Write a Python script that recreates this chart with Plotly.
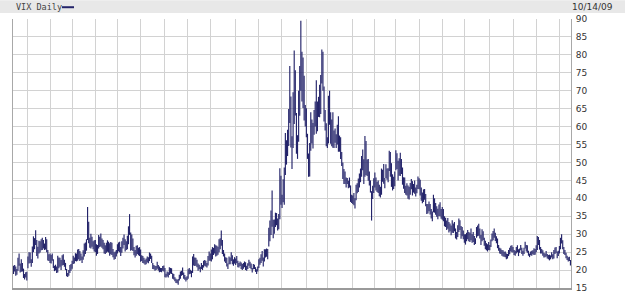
import pandas as pd
import plotly.graph_objects as go

# ---- data: VIX daily low / high, 15 Oct 2007 -> 14 Oct 2009 (one line per month) ----
holidays = ["2007-11-22", "2007-12-25", "2008-01-01", "2008-01-21", "2008-02-18", "2008-03-21",
            "2008-05-26", "2008-07-04", "2008-09-01", "2008-11-27", "2008-12-25", "2009-01-01",
            "2009-01-19", "2009-02-16", "2009-04-10", "2009-05-25", "2009-07-03", "2009-09-07"]
start_date = "2007-10-15"
end_date = "2009-10-14"
title_text = "VIX Daily"
date_label = "10/14/09"
y_ticks = [15, 20, 25, 30, 35, 40, 45, 50, 55, 60, 65, 70, 75, 80, 85, 90]

low = [
    18.9, 19.6, 18.4, 18.7, 19.8, 21.2, 19.3, 19.5, 19.6, 17.8, 17.4, 17.9, 17.1,
    20.5, 21.8, 22.0, 20.9, 22.0, 25.0, 25.8, 27.0, 23.9, 23.2, 24.6, 24.9, 25.5, 25.6, 26.0, 25.6, 25.7, 25.0, 22.7, 22.5, 22.0,
    21.8, 22.6, 20.6, 19.7, 19.9, 19.2, 19.3, 20.5, 20.9, 20.0, 21.3, 21.4, 20.9, 20.0, 18.3, 18.1, 18.4, 19.2, 19.8, 20.4,
    21.7, 21.8, 22.5, 22.4, 22.6, 23.0, 22.5, 22.8, 22.0, 22.9, 23.8, 24.5, 25.4, 28.4, 27.5, 26.2, 26.0, 26.5, 25.8, 25.2, 25.0,
    24.0, 24.5, 26.0, 26.4, 26.6, 26.2, 25.8, 24.6, 24.5, 24.8, 25.1, 24.9, 24.0, 24.4, 24.2, 23.6, 22.9, 23.1, 23.8, 24.6,
    25.2, 25.0, 23.9, 24.8, 26.0, 27.0, 25.2, 25.6, 25.8, 27.2, 29.8, 25.4, 25.6, 25.3, 24.1, 23.5, 24.0, 24.5, 24.1, 23.9,
    22.3, 22.5, 22.0, 21.8, 21.5, 21.6, 22.1, 21.9, 22.5, 23.1, 22.0, 20.3, 20.2, 19.8, 20.0, 20.4, 19.9, 19.4, 19.5, 19.4, 19.8, 19.6,
    18.0, 17.9, 18.2, 17.9, 18.6, 19.0, 18.9, 17.6, 17.4, 16.9, 16.4, 16.3, 15.9, 17.1, 17.6, 18.4, 18.6, 17.6, 17.3, 16.8, 17.2,
    17.6, 18.8, 19.0, 18.0, 19.2, 21.3, 21.1, 21.2, 20.8, 19.8, 20.2, 19.4, 20.3, 20.0, 20.7, 21.2, 21.0, 20.7, 21.3, 22.6, 22.6,
    22.4, 23.0, 24.2, 24.6, 23.8, 24.0, 24.3, 25.0, 25.8, 26.8, 24.5, 23.8, 22.4, 22.0, 21.0, 20.3, 21.6, 21.6, 22.5, 21.6, 21.2, 21.8,
    21.4, 21.9, 20.8, 20.7, 21.1, 20.3, 20.0, 20.4, 20.8, 20.0, 19.8, 20.3, 21.2, 20.6, 20.2, 19.3, 20.2, 20.3, 19.5, 18.9, 19.6,
    20.6, 21.5, 22.0, 22.6, 21.0, 22.4, 23.5, 23.7, 23.0, 26.6, 28.0, 29.8, 32.1, 28.9, 30.1, 32.0, 32.5, 31.0, 31.4, 34.2, 38.2,
    37.3, 38.9, 38.2, 46.5, 49.4, 51.8, 54.6, 61.0, 54.2, 48.2, 54.0, 60.7, 63.1, 52.4, 51.0, 55.8, 63.0, 70.0, 67.0, 65.2, 61.7, 60.0, 57.0,
    51.0, 46.0, 46.1, 53.3, 55.3, 53.9, 57.7, 60.0, 58.0, 58.7, 62.7, 62.6, 63.5, 72.0, 70.0, 61.4, 58.9, 54.5, 54.0,
    55.3, 60.5, 55.2, 54.5, 54.1, 54.0, 55.5, 54.0, 55.0, 53.0, 53.0, 51.0, 49.0, 45.4, 44.0, 44.0, 43.0, 44.0, 42.8, 43.0, 39.0, 38.7,
    38.4, 38.1, 37.2, 39.5, 41.4, 41.8, 43.0, 44.5, 46.0, 47.8, 44.0, 46.0, 46.5, 46.2, 44.9, 43.6, 41.6, 33.8, 39.8, 41.5,
    43.0, 42.2, 41.8, 41.5, 40.6, 40.2, 41.0, 44.6, 44.1, 42.8, 45.7, 45.2, 44.5, 47.6, 46.0, 43.2, 42.2, 42.6, 43.4,
    47.8, 48.2, 45.0, 46.3, 46.2, 46.8, 43.8, 42.7, 41.5, 41.0, 40.8, 39.9, 39.7, 41.0, 42.5, 40.8, 41.6, 41.3, 40.5, 41.4, 42.6, 42.5,
    40.8, 39.3, 38.6, 39.0, 39.6, 37.8, 35.6, 35.8, 36.4, 35.5, 34.4, 33.6, 36.1, 36.0, 35.4, 34.9, 34.2, 35.1, 35.0, 34.3, 34.0,
    33.6, 32.2, 32.0, 31.2, 31.5, 30.5, 30.8, 29.7, 30.4, 30.3, 30.8, 28.8, 28.5, 29.2, 30.6, 31.2, 28.7, 29.4, 28.6, 27.6,
    27.1, 28.0, 28.6, 28.0, 27.8, 28.3, 27.6, 27.8, 27.0, 27.3, 29.0, 29.4, 29.6, 28.8, 27.0, 28.0, 28.4, 26.8, 25.8, 25.5, 25.2, 25.6,
    25.5, 26.4, 28.0, 28.3, 29.0, 28.1, 27.5, 26.1, 25.4, 24.6, 24.5, 24.0, 23.8, 23.7, 23.6, 23.0, 23.2, 23.9, 24.4, 25.2, 25.0, 24.9,
    24.2, 24.0, 24.6, 25.0, 23.9, 24.8, 25.5, 24.5, 24.0, 24.5, 26.0, 25.2, 24.8, 24.0, 23.6, 24.1, 24.0, 24.4, 24.2, 24.3, 25.0,
    25.6, 27.0, 25.7, 24.6, 24.6, 24.0, 23.5, 23.6, 23.8, 23.2, 23.0, 22.7, 23.0, 23.5, 23.0, 23.2, 24.5, 24.8, 23.3, 23.9, 24.6,
    25.8, 27.4, 25.8, 24.5, 24.2, 23.3, 22.8, 22.4, 22.5, 21.3,
]

high = [
    21.2, 21.4, 21.0, 20.3, 23.4, 24.6, 21.8, 23.0, 22.0, 20.4, 18.9, 19.4, 19.5,
    23.8, 25.0, 24.9, 23.0, 26.6, 29.4, 28.9, 31.1, 28.4, 26.5, 28.2, 28.0, 28.6, 29.0, 28.4, 27.4, 29.2, 28.6, 25.6, 24.4, 24.6,
    24.2, 24.6, 23.0, 21.2, 21.5, 21.0, 24.0, 23.5, 23.4, 22.8, 24.1, 24.4, 22.9, 22.0, 20.3, 19.2, 20.0, 21.4, 21.7, 22.6,
    24.0, 23.5, 24.7, 24.6, 25.7, 25.9, 25.3, 24.6, 23.8, 25.5, 27.4, 27.7, 28.6, 37.6, 33.5, 29.0, 30.1, 29.3, 28.0, 28.3, 28.4,
    27.2, 27.0, 29.8, 29.3, 30.2, 28.8, 28.4, 27.6, 26.9, 27.6, 28.3, 27.9, 27.5, 27.8, 27.6, 25.9, 25.0, 25.2, 25.6, 27.2,
    27.7, 27.9, 26.4, 28.0, 29.0, 29.9, 28.6, 28.0, 29.6, 32.2, 35.6, 30.5, 29.9, 28.8, 26.4, 25.6, 26.8, 26.9, 26.2, 26.4,
    25.7, 24.1, 23.9, 23.4, 22.9, 23.2, 23.8, 23.6, 24.9, 24.6, 24.0, 22.0, 21.4, 21.2, 21.1, 22.3, 21.4, 21.0, 20.6, 20.6, 21.1, 21.3,
    20.6, 19.0, 19.6, 19.4, 20.8, 20.6, 20.5, 19.1, 18.9, 18.0, 17.6, 17.3, 17.5, 18.7, 19.6, 19.8, 20.7, 19.3, 18.6, 18.0, 18.3,
    20.2, 20.6, 20.1, 19.8, 23.8, 24.5, 23.5, 23.4, 22.9, 21.8, 21.5, 20.9, 22.0, 21.4, 22.6, 22.8, 22.6, 22.0, 23.9, 25.2, 24.6,
    25.7, 26.4, 26.2, 27.2, 26.9, 26.8, 26.5, 28.6, 28.9, 31.0, 28.4, 25.6, 24.6, 23.6, 23.4, 21.8, 23.8, 23.5, 25.0, 24.1, 23.0, 23.6,
    23.2, 23.9, 22.6, 22.0, 22.4, 22.1, 21.7, 22.0, 22.4, 22.2, 21.2, 21.9, 22.9, 22.3, 21.8, 20.6, 21.7, 21.5, 20.8, 20.2, 21.0,
    23.0, 23.4, 24.4, 25.3, 23.5, 25.8, 25.8, 26.0, 25.9, 31.8, 33.8, 36.6, 42.2, 34.0, 34.1, 36.0, 35.9, 34.4, 35.6, 48.4, 46.3,
    41.0, 45.3, 48.6, 58.2, 56.2, 59.1, 64.9, 76.9, 68.4, 57.3, 69.6, 81.2, 75.7, 63.8, 57.6, 70.0, 76.9, 89.5, 80.9, 79.3, 74.2, 66.0, 65.1,
    58.0, 52.5, 55.4, 64.0, 62.0, 61.0, 64.6, 67.0, 72.9, 67.0, 68.3, 71.7, 74.4, 81.5, 80.9, 71.2, 64.6, 60.9, 57.0,
    68.6, 70.0, 64.0, 62.0, 64.0, 58.9, 59.5, 57.9, 60.5, 62.9, 57.5, 57.0, 52.9, 50.0, 48.2, 47.5, 45.8, 45.7, 44.9, 45.8, 43.6, 41.0,
    40.8, 41.5, 40.0, 43.8, 44.2, 45.5, 46.9, 48.3, 51.8, 53.6, 50.9, 57.4, 56.0, 50.8, 51.0, 47.5, 45.0, 42.0, 43.5, 45.6,
    47.2, 45.8, 44.6, 45.0, 43.8, 43.2, 48.3, 48.0, 49.6, 45.7, 49.5, 48.3, 48.4, 53.3, 52.9, 49.8, 46.7, 46.0, 47.5,
    53.4, 52.6, 50.5, 51.2, 52.7, 51.0, 48.6, 45.9, 45.8, 43.5, 44.2, 43.6, 43.2, 44.3, 45.4, 44.8, 44.0, 45.0, 43.0, 43.8, 46.1, 45.6,
    45.2, 43.0, 41.6, 42.5, 42.6, 41.2, 38.4, 38.4, 39.1, 38.4, 37.0, 36.3, 41.0, 40.0, 38.7, 37.8, 37.1, 38.3, 38.9, 37.0, 37.6,
    37.0, 35.0, 34.6, 33.8, 34.5, 33.4, 33.0, 32.4, 33.9, 33.0, 33.4, 31.6, 30.6, 32.5, 34.4, 33.9, 32.3, 32.0, 31.0, 30.0,
    30.0, 30.4, 31.2, 30.6, 30.4, 31.6, 30.0, 30.6, 29.5, 28.9, 32.0, 32.4, 32.9, 31.6, 29.8, 31.4, 30.8, 29.0, 28.2, 27.5, 27.2, 27.8,
    27.0, 28.5, 30.2, 30.9, 31.6, 30.4, 29.4, 28.8, 27.0, 26.2, 26.0, 25.6, 25.5, 25.1, 25.2, 24.6, 24.5, 25.6, 26.2, 26.8, 26.9, 26.4,
    25.6, 25.4, 26.4, 26.9, 25.8, 26.0, 27.0, 26.2, 25.4, 26.2, 27.9, 27.0, 26.9, 25.4, 24.6, 25.2, 25.4, 25.5, 26.1, 25.9, 26.9,
    29.5, 29.2, 28.4, 26.4, 25.9, 25.5, 24.8, 24.6, 25.3, 24.5, 24.2, 24.3, 24.1, 25.0, 24.4, 25.6, 26.3, 26.4, 25.2, 25.4, 26.7,
    29.0, 30.0, 28.3, 26.4, 25.6, 24.8, 24.0, 23.6, 23.7, 22.8,
]

# ---- trading-day calendar ----
dates = pd.bdate_range(start_date, end_date, freq="C", holidays=holidays)
assert len(dates) == len(low) == len(high), (len(dates), len(low), len(high))
n = len(dates)
idx = list(range(n))
month_starts = [i - 0.5 for i in range(1, n) if dates[i].month != dates[i - 1].month]

# vertical high-low bars
xs, ys = [], []
for i, lo, hi in zip(idx, low, high):
    xs += [i, i, None]
    ys += [lo, hi, None]

NAVY = "#24246a"
fig = go.Figure()
fig.add_trace(go.Scatter(x=xs, y=ys, mode="lines", line=dict(color=NAVY, width=1.15),
                         hoverinfo="skip", showlegend=False))

W, H = 625, 295
ML, MR, MT, MB = 13, 54, 19, 2
PW, PH = W - ML - MR, H - MT - MB


def px_x(p):
    return (p - ML) / PW


def px_y(p):
    return (H - MB - p) / PH


fig.update_layout(
    width=W, height=H,
    margin=dict(l=ML, r=MR, t=MT, b=MB, pad=0),
    paper_bgcolor="white", plot_bgcolor="white",
    showlegend=False,
    xaxis=dict(range=[-0.5, n - 0.5], tickmode="array", tickvals=month_starts,
               showticklabels=False, ticks="", showgrid=True, gridcolor="#d2d2d2", gridwidth=1,
               zeroline=False, showline=True, linecolor="#9a9a9a", linewidth=2, fixedrange=True),
    yaxis=dict(range=[15, 90], side="right", tickmode="array", tickvals=y_ticks,
               ticks="", showgrid=True, gridcolor="#d2d2d2", gridwidth=1, zeroline=False,
               showline=True, mirror=True, linecolor="#a8a8a8", linewidth=1,
               ticklabeloverflow="allow", ticklabelstandoff=2,
               tickfont=dict(family="DejaVu Sans", size=9, color="#333333"), fixedrange=True),
    shapes=[
        dict(type="rect", xref="paper", yref="paper", x0=px_x(0), x1=px_x(W),
             y0=px_y(13), y1=px_y(0), fillcolor="#e8e8e8", line=dict(width=0), layer="below"),
        dict(type="line", xref="paper", yref="paper", x0=px_x(62), x1=px_x(74),
             y0=px_y(7), y1=px_y(7), line=dict(color=NAVY, width=2)),
    ],
    annotations=[
        dict(text=title_text, xref="paper", yref="paper", x=px_x(14), y=px_y(7),
             xanchor="left", yanchor="middle", showarrow=False,
             font=dict(family="DejaVu Sans Mono", size=8.5, color="#444444")),
        dict(text=date_label, xref="paper", yref="paper", x=px_x(615), y=px_y(7),
             xanchor="right", yanchor="middle", showarrow=False,
             font=dict(family="DejaVu Sans", size=9, color="#333333")),
    ],
)

fig.write_html("out.html")
